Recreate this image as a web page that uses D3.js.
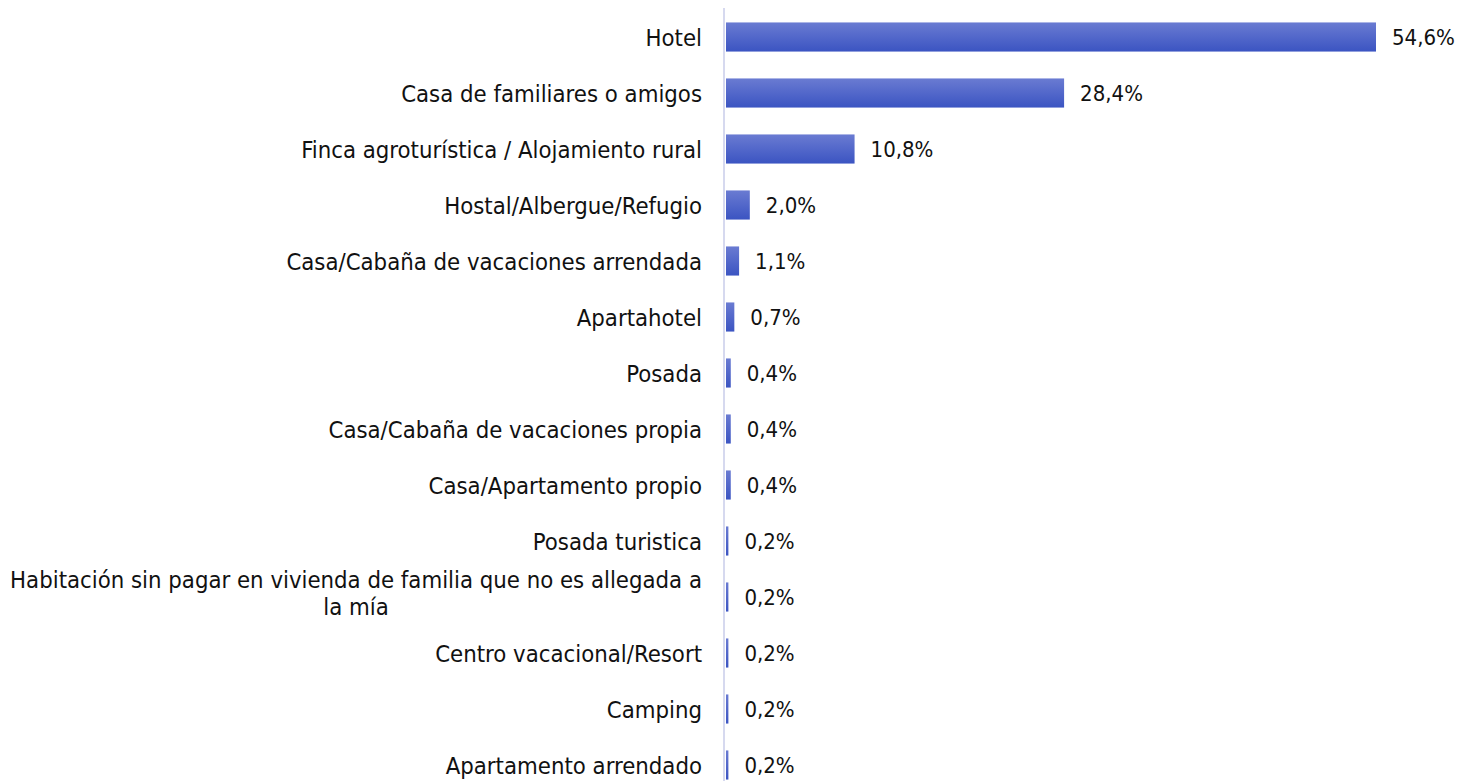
<!DOCTYPE html>
<html>
<head>
<meta charset="utf-8">
<script src="https://cdn.jsdelivr.net/npm/d3@7"></script>
<style>
  body { margin: 0; background: #fff; }
  text { font-family: "DejaVu Sans Condensed", "DejaVu Sans", sans-serif; fill: #111; }
</style>
</head>
<body>
<div id="chart"></div>
<script>
// categories (top to bottom) and shares in percent
var categories = [
    "Hotel",
    "Casa de familiares o amigos",
    "Finca agroturística / Alojamiento rural",
    "Hostal/Albergue/Refugio",
    "Casa/Cabaña de vacaciones arrendada",
    "Apartahotel",
    "Posada",
    "Casa/Cabaña de vacaciones propia",
    "Casa/Apartamento propio",
    "Posada turistica",
    "Habitación sin pagar en vivienda de familia que no es allegada a|la mía",
    "Centro vacacional/Resort",
    "Camping",
    "Apartamento arrendado"
];
var values = [54.6, 28.4, 10.8, 2.0, 1.1, 0.7, 0.4, 0.4, 0.4, 0.2, 0.2, 0.2, 0.2, 0.2];

var width = 1470, height = 781;
var axisX = 724;
var labelSize = "23.7px", valueSize = "22px";

var svg = d3.select("#chart").append("svg")
    .attr("width", width)
    .attr("height", height);

var defs = svg.append("defs");
var grad = defs.append("linearGradient")
    .attr("id", "barGrad")
    .attr("x1", 0).attr("y1", 0).attr("x2", 0).attr("y2", 1);
grad.append("stop").attr("offset", "0%").attr("stop-color", "#6a7bd2");
grad.append("stop").attr("offset", "100%").attr("stop-color", "#3b54c2");

var xScale = d3.scaleLinear()
    .domain([0, 54.6])
    .range([axisX + 2, 1376]);

var yScale = d3.scaleBand()
    .domain(categories)
    .range([9, 793])
    .paddingInner(0.48)
    .paddingOuter(0.24);

// axis line
svg.append("line")
    .attr("x1", axisX).attr("x2", axisX)
    .attr("y1", 8).attr("y2", height)
    .attr("stroke", "#d6d9ef")
    .attr("stroke-width", 2);

svg.selectAll(".bar")
    .data(values)
    .enter()
    .append("rect")
    .attr("class", "bar")
    .attr("x", xScale(0))
    .attr("y", function(d, i) { return yScale(categories[i]); })
    .attr("width", function(d) { return Math.max(2, xScale(d) - xScale(0)); })
    .attr("height", yScale.bandwidth())
    .attr("fill", "url(#barGrad)");

var fmt = function(v) { return v.toFixed(1).replace(".", ",") + "%"; };

svg.selectAll(".val")
    .data(values)
    .enter()
    .append("text")
    .attr("class", "val")
    .attr("x", function(d) { return Math.max(xScale(d), xScale(0) + 2) + 16; })
    .attr("y", function(d, i) { return yScale(categories[i]) + yScale.bandwidth() / 2; })
    .attr("dy", "0.36em")
    .style("font-size", valueSize)
    .text(fmt);

var labels = svg.selectAll(".lab")
    .data(categories)
    .enter()
    .append("text")
    .attr("class", "lab")
    .attr("text-anchor", "middle")
    .style("font-size", labelSize)
    .attr("y", function(d) { return yScale(d) + yScale.bandwidth() / 2; });

labels.each(function(d) {
    var lines = d.split("|");
    var t = d3.select(this);
    if (lines.length === 1) {
        t.attr("text-anchor", "end")
            .append("tspan").attr("x", axisX - 22).attr("dy", "0.36em").text(lines[0]);
    } else {
        // centred two-line label
        var tmp = t.append("tspan").text(lines[0]);
        var w = tmp.node().getComputedTextLength();
        tmp.remove();
        var cx = axisX - 22 - w / 2;
        lines.forEach(function(l, k) {
            t.append("tspan")
                .attr("x", cx)
                .attr("dy", k === 0 ? "-0.36em" : "1.1em")
                .text(l);
        });
    }
});
</script>
</body>
</html>
